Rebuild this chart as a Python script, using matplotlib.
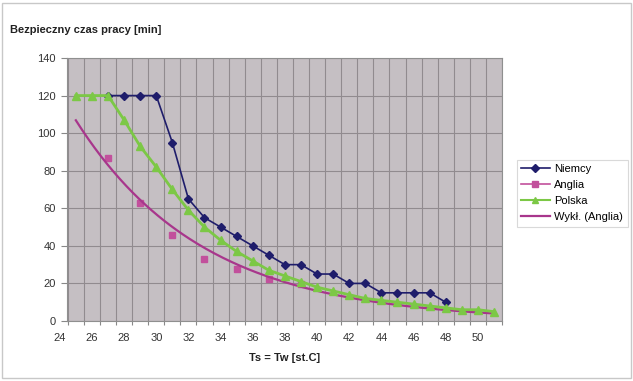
import numpy as np
import matplotlib
matplotlib.use("Agg")
import matplotlib.pyplot as plt
from matplotlib.lines import Line2D
from matplotlib.patches import Rectangle
import matplotlib.transforms as mtransforms

plt.rcParams['font.family'] = ['Liberation Sans', 'DejaVu Sans']

# data
niemcy_x = list(range(27, 49))
niemcy_y = [120, 120, 120, 120, 95, 65, 55, 50, 45, 40, 35, 30, 30, 25, 25,
            20, 20, 15, 15, 15, 15, 10]

anglia_x = [27, 29, 31, 33, 35, 37, 39]
anglia_y = [87, 63, 46, 33, 27.5, 22.4, 19.7]

polska_x = list(range(25, 52))
polska_y = [120, 120, 120, 107, 93, 82, 70, 59, 50, 43, 37, 32, 27, 24, 21,
            18, 16, 14, 12, 11, 10, 9, 8, 7, 6, 6, 5]

# exponential trend (Anglia): values
trend_x = [25, 27, 29, 34, 37, 39, 41.5, 46.4, 51]
trend_y = [109.6, 87, 63, 32.1, 23.4, 18.3, 12.9, 7.3, 4.1]

x_labels = list(range(24, 52, 2))
y_ticks = list(range(0, 141, 20))

c_niemcy = '#1f1d6b'
c_anglia = '#c2509c'
c_polska = '#7cc846'
c_trend = '#a8368c'

fig = plt.figure(figsize=(6.33, 3.81), dpi=100)
fig.patch.set_facecolor('white')
fig.patches.append(Rectangle((2 / 633, 3 / 381), 629 / 633, 375 / 381,
                             transform=fig.transFigure, fill=False,
                             edgecolor='#c8c8c8', lw=1))

ax = fig.add_axes([67 / 633, 1 - 321 / 381, 435 / 633, 263 / 381])
ax.set_facecolor('#c5bfc3')

ax.set_xlim(24.45, 51.5)
ax.set_ylim(0, 140)

# gridlines at half units like the original
ax.set_xticks(np.arange(24.5, 51.6, 1))
ax.set_xticklabels([])
ax.set_yticks(y_ticks)
ax.set_yticklabels([str(v) for v in y_ticks], fontsize=8, color='#333333')
ax.tick_params(axis='x', length=3, color='#888888')
ax.tick_params(axis='y', length=4, color='#888888', pad=4)
ax.grid(True, axis='both', color='#918b8f', lw=0.8)
ax.set_axisbelow(True)
for s in ax.spines.values():
    s.set_color('#8f8f8f')
    s.set_linewidth(0.8)

trans = mtransforms.blended_transform_factory(ax.transData, ax.transAxes)
for v in x_labels:
    ax.text(v, -0.045, str(v), transform=trans, ha='center', va='top',
            fontsize=8, color='#333333', clip_on=False)

# exponential fit through the trend readings
b, a = np.polyfit(trend_x, np.log(trend_y), 1)
tx = np.linspace(trend_x[0], trend_x[-1], 200)
ty = np.exp(a + b * tx)

ax.plot(niemcy_x, niemcy_y, color=c_niemcy, lw=1.2, marker='D', ms=4,
        zorder=3)
ax.plot(anglia_x, anglia_y, ls='none', marker='s', ms=4.5, color=c_anglia,
        zorder=3)
ax.plot(tx, ty, color=c_trend, lw=1.6, zorder=4)
ax.plot(polska_x, polska_y, color=c_polska, lw=2, marker='^', ms=6,
        zorder=5)

fig.text(10 / 633, 1 - 30 / 381, 'Bezpieczny czas pracy [min]', fontsize=8,
         fontweight='bold', va='center', ha='left', color='#222222')
fig.text(285 / 633, 1 - 358 / 381, 'Ts = Tw [st.C]', fontsize=8,
         fontweight='bold', va='center', ha='center', color='#222222')

handles = [
    Line2D([], [], color=c_niemcy, lw=1.2, marker='D', ms=4),
    Line2D([], [], color=c_anglia, lw=1.2, marker='s', ms=4),
    Line2D([], [], color=c_polska, lw=1.5, marker='^', ms=5),
    Line2D([], [], color=c_trend, lw=1.6),
]
labels = ['Niemcy', 'Anglia', 'Polska', 'Wykł. (Anglia)']
leg = fig.legend(handles, labels, loc='upper left',
                 bbox_to_anchor=(511 / 633, 1 - 154 / 381), fontsize=8,
                 frameon=True, fancybox=False, handlelength=2.6,
                 labelspacing=0.55, borderpad=0.4, handletextpad=0.4)
leg.get_frame().set_edgecolor('#d0d0d0')
leg.get_frame().set_linewidth(0.8)

fig.savefig('out.png', dpi=100)
